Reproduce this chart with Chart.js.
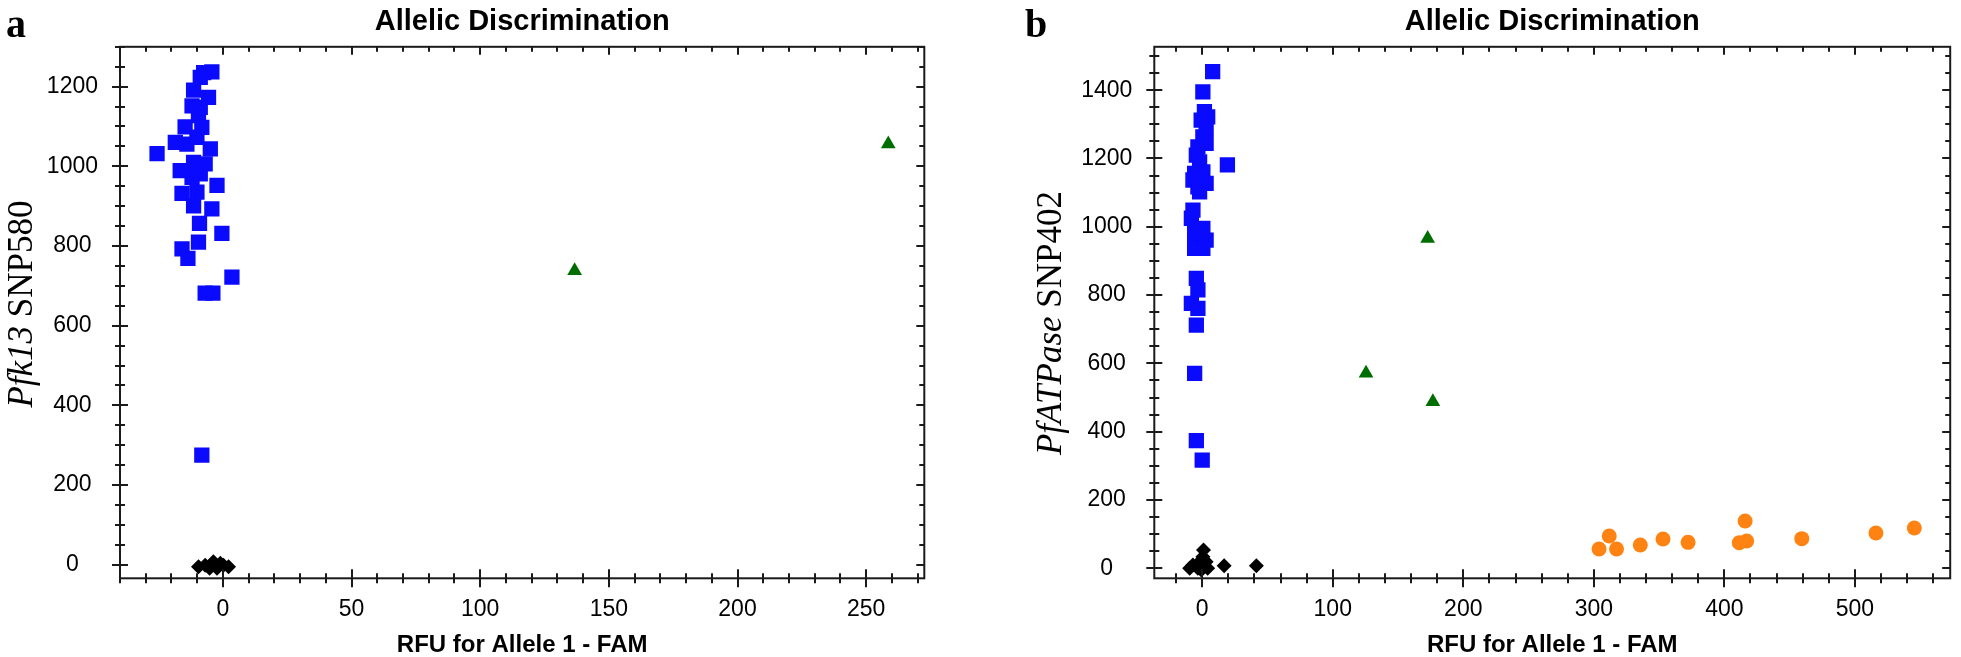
<!DOCTYPE html>
<html>
<head>
<meta charset="utf-8">
<script src="https://cdn.jsdelivr.net/npm/chart.js@4/dist/chart.umd.min.js"></script>
<style>
  html, body { margin: 0; padding: 0; background: #fff; }
  #wrap { position: relative; width: 1961px; height: 657px; overflow: hidden; }
  canvas { position: absolute; top: 0; }
  .panel { position: absolute; font-family: "Liberation Serif", serif; font-weight: bold; font-size: 40px; line-height: 1; }
  .ytitle { position: absolute; font-family: "Liberation Serif", serif; font-size: 35px; line-height: 1;
            white-space: nowrap; transform: translate(-50%, -50%) rotate(-90deg); }
</style>
</head>
<body>
<div id="wrap">
  <canvas id="chartA" width="980" height="657" style="left:0"></canvas>
  <canvas id="chartB" width="981" height="657" style="left:980px"></canvas>
  <div class="panel" style="left:6px; top:4px">a</div>
  <div class="panel" style="left:1025px; top:4px">b</div>
  <div class="ytitle" style="left:20px; top:304px"><i>Pfk13</i> SNP580</div>
  <div class="ytitle" style="left:1049px; top:323px"><i>PfATPase</i> SNP402</div>
</div>
<script>
// panel a - Pfk13 SNP580
const aBlueX = [-25.6, -4.3, -7.5, -8.8, -11.4, -5.6, -12, -8.8, -9.5, -14.7, -8.2, -18.5, -14, -10.1, -4.9, -16.6, -11.4, -6.9, -8.8, -12, -2.3, -15.9, -10.1, -11.4, -4.3, -9.1, -0.4, -9.5, -15.9, -13.6, 3.5, -6.9, -3.9, -8.2];
const aBlueY = [1032, 1237, 1235, 1223, 1191, 1173, 1152, 1148, 1127, 1099, 1098, 1060, 1056, 1073, 1044, 989, 1010, 1006, 981, 972, 952, 932, 935, 901, 893, 857, 832, 810, 793, 769, 722, 682, 682, 275];
const aGreenX = [136.7, 258.6];
const aGreenY = [738, 1056];
const aBlackX = [-9.5, -6.9, -3.7, -1, 2.2, -5.2, -2.3, 0.2];
const aBlackY = [-5, -1, 7.5, 3.5, -5, -9, -9, -1];
const aXTicks = [0, 50, 100, 150, 200, 250];
const aYTicks = [0, 200, 400, 600, 800, 1000, 1200];

// panel b - PfATPase SNP402
const bBlueX = [8, 0.5, 19.3, 1.7, 4.2, -0.8, 3, 0.5, 3, -3.3, -4.5, -2, 0.5, -5.8, -7.1, 3, -3.3, -2, -7.1, -8.3, 0.5, -5.8, 3, -5.8, 0.5, -4.5, -3.3, -8.3, -3.3, -4.5, -5.8, -4.5, 0];
const bBlueY = [1454, 1395, 1181, 1337, 1322, 1312, 1288, 1263, 1244, 1234, 1210, 1190, 1161, 1156, 1137, 1127, 1117, 1102, 1049, 1025, 995, 981, 961, 937, 937, 849, 815, 776, 761, 712, 571, 374, 317];
const bGreenX = [125.5, 172.7, 176.7];
const bGreenY = [571, 966, 488];
const bOrangeX = [304, 311.8, 317.4, 335.6, 353, 372.2, 411.4, 417.1, 415.9, 459.3, 516.1, 545.5];
const bOrangeY = [56.5, 94.6, 56.5, 68.2, 85.8, 76, 75, 80, 138.5, 86.8, 103.3, 118];
const bBlackX = [16.8, 41.5, 1, -7.1, -2, 3, 0.5, -3.3, 4.2, -9.6, -0.7];
const bBlackY = [7.6, 7.6, 53.6, 9.7, 19.3, 19, 34, 0, 0, 0, -5];
const bXTicks = [0, 100, 200, 300, 400, 500];
const bYTicks = [0, 200, 400, 600, 800, 1000, 1200, 1400];

const pts = (xs, ys) => xs.map((x, i) => ({ x: x, y: ys[i] }));

function series(xs, ys, color, style, r) {
    return {
        data: pts(xs, ys),
        backgroundColor: color,
        borderColor: color,
        borderWidth: 0,
        pointStyle: style,
        pointRadius: r,
        pointHoverRadius: r
    };
}

// frame + ticks on all four sides (left/bottom cross the axis, top/right point inward)
const frameTicks = {
    id: 'frameTicks',
    afterDraw(chart, args, opts) {
        const { ctx, chartArea: { left, right, top, bottom }, scales: { x, y } } = chart;
        ctx.save();
        ctx.strokeStyle = '#1a1a1a';
        ctx.lineWidth = 2;
        ctx.strokeRect(left, top, right - left, bottom - top);
        const line = (x1, y1, x2, y2) => { ctx.beginPath(); ctx.moveTo(x1, y1); ctx.lineTo(x2, y2); ctx.stroke(); };
        for (let v = Math.ceil(x.min / opts.xMinor) * opts.xMinor; v <= x.max; v += opts.xMinor) {
            const px = Math.round(x.getPixelForValue(v));
            const major = opts.xMajor.includes(v);
            const len = major ? 9 : 5;
            line(px, bottom - len, px, bottom + len);
            line(px, top, px, top + (major ? 8 : 5));
        }
        for (let v = Math.ceil(y.min / opts.yMinor) * opts.yMinor; v <= y.max; v += opts.yMinor) {
            const py = Math.round(y.getPixelForValue(v));
            const major = opts.yMajor.includes(v);
            const len = major ? 8 : 5;
            line(left - len, py, left + len, py);
            line(right - (major ? 8 : 5), py, right, py);
        }
        ctx.restore();
    }
};

function makeChart(id, datasets, xr, yr, xTicks, yTicks, xMinor, yMinor, yWidth, padRight) {
    return new Chart(document.getElementById(id), {
        type: 'scatter',
        data: { datasets: datasets },
        plugins: [frameTicks],
        options: {
            responsive: false,
            animation: false,
            layout: { padding: { left: 0, right: padRight, top: 0, bottom: 0 } },
            plugins: {
                legend: { display: false },
                tooltip: { enabled: false },
                title: {
                    display: true,
                    fullSize: false,
                    text: 'Allelic Discrimination',
                    color: '#000',
                    font: { family: 'Liberation Sans', size: 29, weight: 'bold', lineHeight: 1.2 },
                    padding: { top: 5, bottom: 7 }
                },
                frameTicks: { xMajor: xTicks, yMajor: yTicks, xMinor: xMinor, yMinor: yMinor }
            },
            scales: {
                x: {
                    min: xr[0], max: xr[1],
                    grid: { display: false, drawTicks: false, tickLength: 0 },
                    border: { display: false },
                    afterBuildTicks: (s) => { s.ticks = xTicks.map(v => ({ value: v })); },
                    afterFit: (s) => { s.height = 78.7; },
                    ticks: {
                        autoSkip: false, maxRotation: 0, padding: 18,
                        color: '#000',
                        font: { family: 'Liberation Sans', size: 23 },
                        callback: (v) => String(v)
                    },
                    title: {
                        display: true,
                        text: 'RFU for Allele 1 - FAM',
                        color: '#000',
                        font: { family: 'Liberation Sans', size: 24, weight: 'bold', lineHeight: 1 },
                        padding: { top: 0, bottom: 0 }
                    }
                },
                y: {
                    min: yr[0], max: yr[1],
                    grid: { display: false, drawTicks: false, tickLength: 0 },
                    border: { display: false },
                    afterBuildTicks: (s) => { s.ticks = yTicks.map(v => ({ value: v })); },
                    afterFit: (s) => { s.width = yWidth; },
                    ticks: {
                        autoSkip: false, crossAlign: 'center', padding: 22,
                        color: '#000',
                        font: { family: 'Liberation Sans', size: 23 },
                        callback: (v) => String(v)
                    }
                }
            }
        }
    });
}

makeChart('chartA', [
    series(aBlueX, aBlueY, '#0a0aff', 'rect', 10.8),
    series(aGreenX, aGreenY, '#006d00', 'triangle', 8.5),
    series(aBlackX, aBlackY, '#000000', 'rectRot', 7.5)
], [-40, 272.6], [-34, 1300], aXTicks, aYTicks, 10, 50, 120, 55.7);

makeChart('chartB', [
    series(bBlueX, bBlueY, '#0a0aff', 'rect', 10.8),
    series(bGreenX, bGreenY, '#006d00', 'triangle', 8.5),
    series(bOrangeX, bOrangeY, '#ff8312', 'circle', 7.5),
    series(bBlackX, bBlackY, '#000000', 'rectRot', 7.5)
], [-36.7, 573], [-29.3, 1527], bXTicks, bYTicks, 20, 50, 174.3, 2);
</script>
</body>
</html>
